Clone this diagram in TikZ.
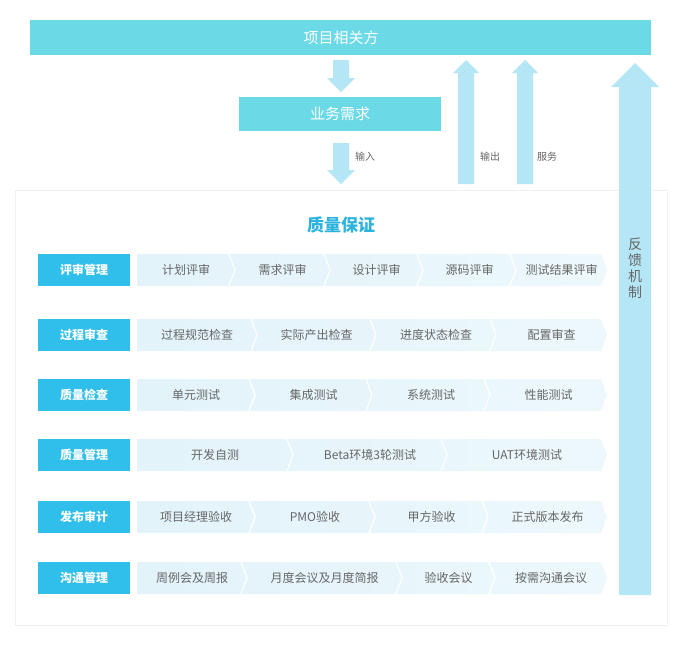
\documentclass[tikz,border=0pt]{standalone}
\usepackage{fontspec}
\newfontfamily\cjk{Noto Sans CJK SC}
\definecolor{topbar}{HTML}{6CD9E7}
\definecolor{arrowc}{HTML}{B5E6F5}
\definecolor{lab}{HTML}{2FBFEA}
\definecolor{band}{HTML}{E2F3FA}
\definecolor{bandr}{HTML}{EDF8FC}
\definecolor{txt}{HTML}{666666}
\definecolor{ttl}{HTML}{2BB3DE}
\begin{document}
\begin{tikzpicture}[x=1pt,y=-1pt,font=\cjk,
  lbl/.style={fill=lab,text=white,font=\cjk\bfseries\fontsize{12}{14}\selectfont,minimum width=92pt,minimum height=32pt,inner sep=0pt},
  item/.style={text=txt,font=\cjk\fontsize{12}{14}\selectfont,inner sep=0pt},
  sm/.style={text=txt,font=\cjk\fontsize{10}{12}\selectfont,inner sep=0pt},
  arr/.style={fill=arrowc}]
\useasboundingbox (0,0) rectangle (686,646);
\fill[white] (0,0) rectangle (686,646);
% top bar
\fill[topbar] (30,20) rectangle (651,55);
\node[text=white,font=\cjk\fontsize{15}{18}\selectfont] (top) at (341,38) {项目相关方};
\fill[topbar] (239,97) rectangle (441,131);
\node[text=white,font=\cjk\fontsize{15}{18}\selectfont] (biz) at (340,114) {业务需求};
% arrows down
\fill[arr] (333,60) -- (349,60) -- (349,78) -- (355,78) -- (341,92) -- (327,78) -- (333,78) -- cycle;
\fill[arr] (333,143) -- (349,143) -- (349,170) -- (355,170) -- (341,184) -- (327,170) -- (333,170) -- cycle;
\node[sm] (in) at (365,157) {输入};
% arrows up
\fill[arr] (458,184) -- (474,184) -- (474,73) -- (479,73) -- (466,60) -- (453,73) -- (458,73) -- cycle;
\node[sm] (out) at (490,157) {输出};
\fill[arr] (517,184) -- (533,184) -- (533,73) -- (538,73) -- (525,60) -- (512,73) -- (517,73) -- cycle;
\node[sm] (srv) at (547,157) {服务};
% panel
\draw[black!6,line width=0.6pt] (15,190) rectangle (667,625);
% feedback arrow
\fill[arr] (619,595) -- (651,595) -- (651,87) -- (659,87) -- (635,63) -- (611,87) -- (619,87) -- cycle;
\node[text=txt,font=\cjk\fontsize{14}{17}\selectfont,align=center,inner sep=0pt] (fb) at (635,268) {反\\[-1pt]馈\\[-1pt]机\\[-1pt]制};
\node[text=ttl,font=\cjk\bfseries\fontsize{17}{20}\selectfont] (title) at (341,225) {质量保证};
% rows
\foreach \y/\name/\seps/\items [count=\r] in {
  270/评审管理/{235,330,423,516}/{计划评审,需求评审,设计评审,源码评审,测试结果评审},
  335/过程审查/{257,376,496}/{过程规范检查,实际产出检查,进度状态检查,配置审查},
  395/质量检查/{255,372,490}/{单元测试,集成测试,系统测试,性能测试},
  455/质量管理/{293,447}/{开发自测,Beta环境3轮测试,UAT环境测试},
  517/发布审计/{255,375,488}/{项目经理验收,PMO验收,甲方验收,正式版本发布},
  578/沟通管理/{247,402,495}/{周例会及周报,月度会议及月度简报,验收会议,按需沟通会议}}{
  \node[lbl] (L\r) at (84,\y) {\name};
  \shade[left color=band,right color=bandr] (137,\y-16) -- (601,\y-16) -- (607,\y) -- (601,\y+16) -- (137,\y+16) -- cycle;
  \def\prev{137}
  \foreach \s in \seps {\draw[white,line width=1.2pt] (\s-6,\y-16) -- (\s,\y) -- (\s-6,\y+16);}
  \edef\allseps{137,\seps,607}
  \foreach \t [count=\i] in \items {
    \pgfmathparse{{\allseps}[\i-1]}\let\a\pgfmathresult
    \pgfmathparse{{\allseps}[\i]}\let\b\pgfmathresult
    \node[item] (I\r-\i) at ({(\a+\b)/2},\y) {\t};
  }
}
\end{tikzpicture}
\end{document}
